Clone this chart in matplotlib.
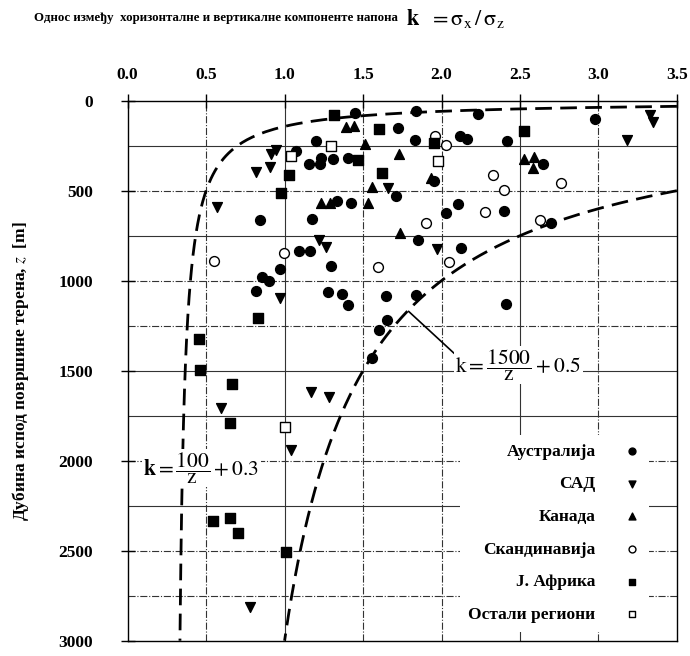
import numpy as np
import matplotlib
matplotlib.use('Agg')
import matplotlib.pyplot as plt

plt.rcParams['font.family'] = ['Liberation Serif', 'DejaVu Serif']
plt.rcParams['mathtext.fontset'] = 'stix'

# data: (k, z)
aus_k = [1.45, 1.72, 1.20, 1.075, 1.155, 1.223, 1.234, 1.307, 1.403, 1.71, 1.333, 1.424,
         0.842, 1.177, 1.092, 1.164, 1.297, 0.973, 0.856, 0.899, 0.816, 1.276, 1.365,
         1.403, 1.647, 1.65, 1.60, 1.557, 1.837, 2.235, 2.98, 1.833, 2.117, 2.165, 2.419,
         2.646, 1.95, 2.03, 2.106, 2.40, 2.70, 1.848, 2.123, 1.837, 2.41]
aus_z = [70, 153, 222, 279, 352, 352, 320, 324, 320, 527, 555, 567,
         663, 659, 833, 833, 918, 935, 978, 1000, 1055, 1061, 1074,
         1135, 1085, 1218, 1274, 1428, 57, 76, 102, 218, 194, 213, 222,
         352, 446, 626, 574, 611, 678, 774, 816, 1079, 1129]

usa_k = [0.916, 0.948, 0.82, 0.91, 1.66, 0.571, 1.217, 1.265, 0.973, 1.97, 3.33, 3.35,
         3.18, 0.598, 1.043, 1.166, 1.282, 0.778]
usa_z = [296, 274, 394, 367, 487, 589, 774, 811, 1098, 824, 79, 116,
         218, 1709, 1940, 1617, 1644, 2811]

can_k = [1.39, 1.44, 1.51, 1.56, 1.234, 1.287, 1.53, 1.736, 1.73, 2.525, 2.589, 2.583, 1.93]
can_z = [144, 140, 242, 478, 570, 570, 567, 733, 296, 326, 311, 376, 431]

sca_k = [0.994, 0.552, 1.594, 1.96, 2.028, 2.33, 2.40, 2.76, 2.275, 1.90, 2.625, 2.05]
sca_z = [844, 889, 926, 194, 246, 413, 496, 455, 620, 678, 663, 898]

saf_k = [1.318, 1.60, 1.466, 1.028, 1.62, 0.975, 2.527, 1.954, 0.831, 0.456, 0.46,
         0.666, 0.651, 0.545, 0.651, 0.704, 1.011]
saf_z = [79, 159, 329, 413, 403, 511, 167, 233, 1209, 1326, 1496,
         1576, 1792, 2335, 2320, 2400, 2505]

oth_k = [1.295, 1.043, 1.975, 1.0]
oth_z = [250, 307, 333, 1811]

fig = plt.figure(figsize=(6.9, 6.56), dpi=100)
ax = fig.add_axes([0.185, 0.0233, 0.796, 0.8232])

# grid
for yv in range(250, 3000, 250):
    ls = '-' if yv in (250, 750, 1500, 1750, 2250) else '-.'
    ax.axhline(yv, color='#333333', lw=0.8, ls=ls, zorder=1)
for xv in [0.5, 1.0, 1.5, 2.0, 2.5, 3.0]:
    ls = '-' if xv in (1.0, 2.5) else '-.'
    ax.axvline(xv, color='#333333', lw=0.8, ls=ls, zorder=1)

# envelope curves
z1 = np.linspace(100 / 3.2, 3000, 400)
ax.plot(100 / z1 + 0.3, z1, color='black', lw=2, dashes=(6, 3), zorder=2)
z2 = np.linspace(500, 3000, 300)
ax.plot(1500 / z2 + 0.5, z2, color='black', lw=2, dashes=(6, 3), zorder=2)

ms = 50
ax.scatter(aus_k, aus_z, s=ms, marker='o', color='black', zorder=3, label='Аустралија')
ax.scatter(usa_k, usa_z, s=ms, marker='v', color='black', zorder=3, label='САД')
ax.scatter(can_k, can_z, s=ms, marker='^', color='black', zorder=3, label='Канада')
ax.scatter(sca_k, sca_z, s=ms, marker='o', facecolor='white', edgecolor='black',
           linewidth=1, zorder=3, label='Скандинавија')
ax.scatter(saf_k, saf_z, s=ms, marker='s', color='black', zorder=3, label='Ј. Африка')
ax.scatter(oth_k, oth_z, s=ms, marker='s', facecolor='white', edgecolor='black',
           linewidth=1, zorder=3, label='Остали региони')

# curve labels
ax.text(0.47, 2040, r'$\mathbf{k} = \dfrac{100}{\mathrm{z}} + 0.3$', fontsize=15.5,
        ha='center', va='center', zorder=4,
        bbox=dict(facecolor='white', edgecolor='none', pad=1))
ax.annotate(r'$\mathrm{k} = \dfrac{1500}{\mathrm{z}} + 0.5$', xy=(1.79, 1170),
            xytext=(2.49, 1470), fontsize=15.5, ha='center', va='center', zorder=4,
            bbox=dict(facecolor='white', edgecolor='none', pad=1),
            arrowprops=dict(arrowstyle='-', color='black', lw=1.2,
                            shrinkA=0, shrinkB=0, relpos=(0.0, 0.8)))

leg = ax.legend(loc='lower right', bbox_to_anchor=(0.95, 0.017), markerfirst=False,
                frameon=True, fancybox=False, edgecolor='none', framealpha=1,
                labelspacing=0.95, handletextpad=1.6, handlelength=1.0,
                markerscale=0.7, borderaxespad=0, borderpad=0.5,
                prop={'weight': 'bold', 'size': 12.5})
leg.set_zorder(5)

ax.set_xlim(0, 3.5)
ax.set_ylim(3000, 0)
ax.set_xticks(np.arange(0, 3.51, 0.5))
ax.set_xticklabels([f'{v:.1f}' for v in np.arange(0, 3.51, 0.5)])
ax.set_yticks(range(0, 3001, 500))
ax.xaxis.tick_top()
ax.tick_params(axis='both', direction='inout', length=10, width=1, labelsize=12.5)
ax.tick_params(axis='x', pad=8)
ax.tick_params(axis='y', pad=20)
for lbl in ax.get_xticklabels() + ax.get_yticklabels():
    lbl.set_fontweight('bold')
for sp in ax.spines.values():
    sp.set_linewidth(1)

ax.set_ylabel('Дубина испод површине терена, $z$  [m]', fontsize=12.5,
              fontweight='bold', labelpad=20)

fig.text(0.05, 0.972, 'Однос између  хоризонталне и вертикалне компоненте напона',
         fontsize=9.3, fontweight='bold', va='center')
fig.text(0.588, 0.972, r'$\mathbf{k}\ \ = \mathrm{\sigma_x}\,/\,\mathrm{\sigma_z}$',
         fontsize=16, va='center')

fig.savefig('out.png', dpi=100)
plt.close(fig)
